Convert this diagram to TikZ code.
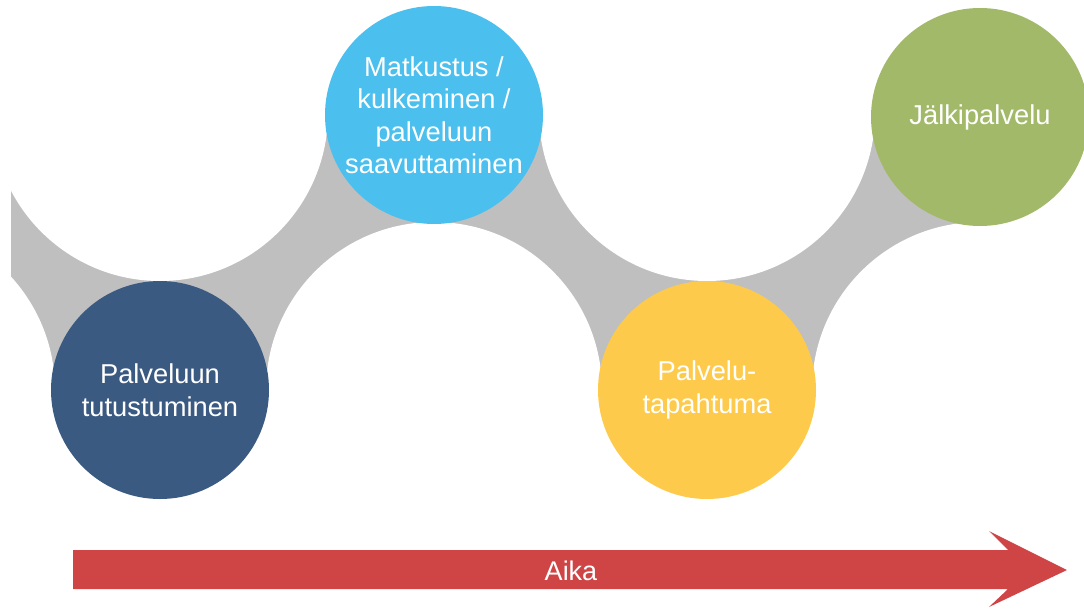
\documentclass[tikz,border=0pt]{standalone}
\usepackage{fontspec}
\setmainfont{Liberation Sans}
\definecolor{tummasininen}{HTML}{3B5A82}
\definecolor{vaaleansininen}{HTML}{4BC0EF}
\definecolor{keltainen}{HTML}{FECA4B}
\definecolor{vihrea}{HTML}{A3B96A}
\definecolor{punainen}{HTML}{CF4445}
\definecolor{harmaa}{HTML}{BFBFBF}

\begin{document}
\begin{tikzpicture}[x=1pt, y=-1pt, line join=round]
  \useasboundingbox (0,0) rectangle (1084,608);
  % Vaiheiden keskipisteet
  \coordinate (C1) at (160,390);
  \coordinate (C2) at (434,115);
  \coordinate (C3) at (707,390);
  \coordinate (C4) at (980,117);
  % Valkoisten aukkojen keskipisteet
  \coordinate (W0) at (-113,390);
  \coordinate (W1) at (160,113);
  \coordinate (W2) at (434,390);
  \coordinate (W3) at (707,113);
  \coordinate (W4) at (980,390);

  % Tyylit vaiheille ja tekstille
  \tikzset{vaihe/.style={circle, minimum size=218pt, inner sep=0pt, text=white,
      align=center, font=\fontsize{27.3}{32.5}\selectfont}}

  % Harmaa nauha
  \begin{scope}
    \clip (11,113) rectangle (980,390);
    \fill[harmaa] (11,113) rectangle (980,390);
    \foreach \w in {W0,W1,W2,W3,W4} \fill[white] (\w) circle (168);
  \end{scope}

  % Vaiheet
  \node[vaihe, fill=tummasininen] (tutustuminen) at (C1) {Palveluun\\tutustuminen};
  \node[vaihe, fill=vaaleansininen] (matkustus) at (C2) {Matkustus /\\kulkeminen /\\palveluun\\saavuttaminen};
  \node[vaihe, fill=keltainen] (tapahtuma) at (C3) {Palvelu-\\tapahtuma};
  \node[vaihe, fill=vihrea] (jalkipalvelu) at (C4) {Jälkipalvelu};

  % Aikanuoli
  \fill[punainen] (73,550) -- (1008,550) -- (989,531) -- (1067,570)
    -- (989,607) -- (1008,589) -- (73,589) -- cycle;
  \node[text=white, font=\fontsize{27}{32}\selectfont] (aika) at (571,571) {Aika};

\end{tikzpicture}
\end{document}
